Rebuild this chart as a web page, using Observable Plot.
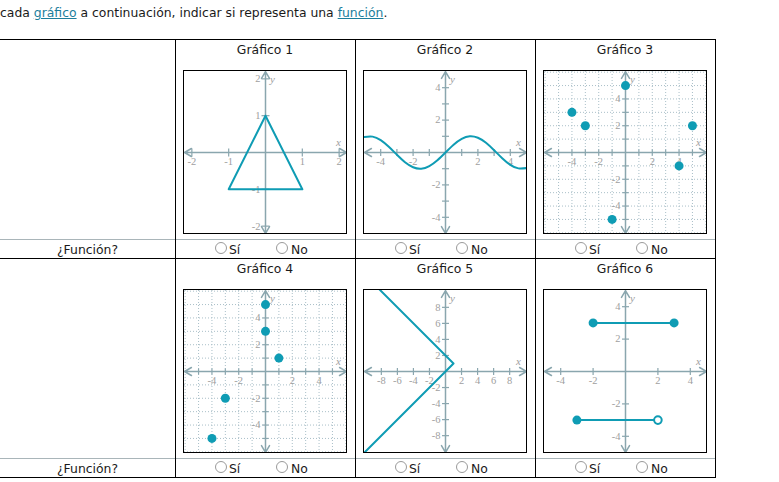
<!DOCTYPE html>
<html><head><meta charset="utf-8">
<script src="https://cdn.jsdelivr.net/npm/d3@7"></script>
<script src="https://cdn.jsdelivr.net/npm/@observablehq/plot@0.6"></script>
<style>
html,body{margin:0;padding:0;background:#fff;}
body{width:779px;height:482px;overflow:hidden;position:relative;font-family:Verdana,"DejaVu Sans",sans-serif;font-size:12.4px;color:#1a1a1a;}
.t{position:absolute;line-height:15px;white-space:nowrap;}
.hl{position:absolute;height:1px;}
.vl{position:absolute;width:1px;background:#000;}
a{color:#1c7e9c;text-decoration:underline;}
.radio{position:absolute;width:10px;height:10px;border:1px solid #9a9a9a;border-radius:50%;background:#fff;}
.box{position:absolute;width:162px;height:162px;border:1px solid #000;overflow:hidden;background:#fff;}
.box svg{display:block;}
</style></head><body>
<div class="t" style="left:0;top:5px">cada <a>gráfico</a> a continuación, indicar si representa una <a>función</a>.</div>
<div id="root"></div>
<script>
// ---------- data ----------
const graphTitles = ["Gráfico 1", "Gráfico 2", "Gráfico 3", "Gráfico 4", "Gráfico 5", "Gráfico 6"];
const questionLabel = "¿Función?";
const optionLabels = ["Sí", "No"];

// Gráfico 1: triangle
const triX = [0, 1, -1, 0];
const triY = [1, -1, -1, 1];
// Gráfico 2: wave
const waveX = [-5, -4.5, -4, -3.5, -3, -2.5, -2, -1.5, -1, -0.5, 0, 0.5, 1, 1.5, 2, 2.5, 3, 3.5, 4, 4.5, 5];
const waveY = [0.96, 0.98, 0.76, 0.35, -0.14, -0.6, -0.91, -1.0, -0.84, -0.48, 0, 0.48, 0.84, 1.0, 0.91, 0.6, 0.14, -0.35, -0.76, -0.98, -0.96];
// Gráfico 3: points
const pts3X = [0, -4, -3, 5, 4, -1];
const pts3Y = [5, 3, 2, 2, -1, -5];
// Gráfico 4: points
const pts4X = [0, 0, 1, -3, -4];
const pts4Y = [5, 3, 1, -2, -5];
// Gráfico 5: sideways V
const vX = [-9, 1, -11];
const vY = [11, 1, -11];
// Gráfico 6: two segments
const segStartX = [-2, -3];
const segEndX = [3, 2];
const segY = [3, -3];
const closedX = [-2, 3, -3];
const closedY = [3, 3, -3];
const openX = [2];
const openY = [-3];

// ticks / labels
const ticks1 = [-2, -1, 1, 2];
const labels1 = [-2, -1, 1, 2];
const ticksUnit5 = [-4, -3, -2, -1, 1, 2, 3, 4];
const labels5 = [-4, -2, 2, 4];
const grid6 = [-6, -5, -4, -3, -2, -1, 0, 1, 2, 3, 4, 5, 6];
const ticksUnit6 = [-5, -4, -3, -2, -1, 1, 2, 3, 4, 5];
const ticks10 = [-8, -6, -4, -2, 2, 4, 6, 8];
const labels10 = [-8, -6, -4, -2, 2, 4, 6, 8];
const ticksEven5 = [-4, -2, 2, 4];

// ---------- styles ----------
const axisColor = "#8aa6ae";
const gridColor = "#a9bfc8";
const teal = "#0f9cb4";
const labelColor = "#a0a0a0";
const serif = "'Liberation Serif','DejaVu Serif',serif";

const vTick = {draw(ctx, size){ const r = Math.sqrt(size/Math.PI); ctx.moveTo(0,-r); ctx.lineTo(0,r); }};
const hTick = {draw(ctx, size){ const r = Math.sqrt(size/Math.PI); ctx.moveTo(-r,0); ctx.lineTo(r,0); }};

function chart(cfg) {
  const xd = cfg.xd, yd = cfg.yd;
  const marks = [];
  if (cfg.grid) {
    marks.push(Plot.ruleX(cfg.grid, {x: d => d, stroke: gridColor, strokeDasharray: "1,2", strokeWidth: 1}));
    marks.push(Plot.ruleY(cfg.grid, {y: d => d, stroke: gridColor, strokeDasharray: "1,2", strokeWidth: 1}));
  }
  const axes = [
    {x1: 0, y1: 0, x2: xd[1], y2: 0}, {x1: 0, y1: 0, x2: xd[0], y2: 0},
    {x1: 0, y1: 0, x2: 0, y2: yd[1]}, {x1: 0, y1: 0, x2: 0, y2: yd[0]}
  ];
  marks.push(Plot.arrow(axes, {x1: "x1", y1: "y1", x2: "x2", y2: "y2", stroke: axisColor, strokeWidth: 1.5, headLength: 8, headAngle: 60}));
  marks.push(Plot.dot(cfg.xTicks, {x: d => d, y: () => 0, symbol: vTick, r: cfg.tickR, stroke: axisColor, strokeWidth: 1.2, fill: "none"}));
  marks.push(Plot.dot(cfg.yTicks, {x: () => 0, y: d => d, symbol: hTick, r: cfg.tickR, stroke: axisColor, strokeWidth: 1.2, fill: "none"}));
  marks.push(Plot.text(cfg.xLabels, {x: d => d, y: () => 0, dy: 9, text: d => String(d), fill: labelColor, fontFamily: serif, fontSize: 10.5}));
  marks.push(Plot.text(cfg.yLabels, {x: () => 0, y: d => d, dx: -5, textAnchor: "end", text: d => String(d), fill: labelColor, fontFamily: serif, fontSize: 10.5}));
  marks.push(Plot.text(["x"], {x: () => xd[1], y: () => 0, dx: -8, dy: -10, text: d => d, fill: labelColor, fontFamily: serif, fontStyle: "italic", fontSize: 11}));
  marks.push(Plot.text(["y"], {x: () => 0, y: () => yd[1], dx: 7, dy: 8, text: d => d, fill: labelColor, fontFamily: serif, fontStyle: "italic", fontSize: 11}));
  marks.push(...cfg.marks);
  return Plot.plot({width: 162, height: 162, margin: 0,
    x: {domain: xd, axis: null}, y: {domain: yd, axis: null}, marks});
}

const pairs = (xs, ys) => xs.map((x, i) => ({x, y: ys[i]}));

const charts = [
  {xd: [-2.2, 2.2], yd: [-2.2, 2.2], tickR: 4, xTicks: ticks1, yTicks: ticks1, xLabels: labels1, yLabels: labels1,
   marks: [Plot.line(pairs(triX, triY), {x: "x", y: "y", stroke: teal, strokeWidth: 2})]},
  {xd: [-5, 5], yd: [-5, 5], tickR: 3.5, xTicks: ticksUnit5, yTicks: ticksUnit5, xLabels: labels5, yLabels: labels5,
   marks: [Plot.line(pairs(waveX, waveY), {x: "x", y: "y", curve: "natural", stroke: teal, strokeWidth: 2})]},
  {xd: [-6.05, 6.05], yd: [-6.05, 6.05], tickR: 3, grid: grid6, xTicks: ticksUnit6, yTicks: ticksUnit6, xLabels: labels5, yLabels: labels5,
   marks: [Plot.dot(pairs(pts3X, pts3Y), {x: "x", y: "y", r: 4.5, fill: teal})]},
  {xd: [-6.05, 6.05], yd: [-6.05, 6.05], tickR: 3, grid: grid6, xTicks: ticksUnit6, yTicks: ticksUnit6, xLabels: labels5, yLabels: labels5,
   marks: [Plot.dot(pairs(pts4X, pts4Y), {x: "x", y: "y", r: 4.5, fill: teal})]},
  {xd: [-10.1, 10.1], yd: [-10.1, 10.1], tickR: 3.5, xTicks: ticks10, yTicks: ticks10, xLabels: labels10, yLabels: labels10,
   marks: [Plot.line(pairs(vX, vY), {x: "x", y: "y", stroke: teal, strokeWidth: 2, clip: true})]},
  {xd: [-5, 5], yd: [-5, 5], tickR: 3.5, xTicks: ticksEven5, yTicks: ticksEven5, xLabels: labels5, yLabels: labels5,
   marks: [
     Plot.link(segY.map((y, i) => ({x1: segStartX[i], x2: segEndX[i], y})), {x1: "x1", x2: "x2", y1: "y", y2: "y", stroke: teal, strokeWidth: 2}),
     Plot.dot(pairs(closedX, closedY), {x: "x", y: "y", r: 4.5, fill: teal}),
     Plot.dot(pairs(openX, openY), {x: "x", y: "y", r: 3.8, fill: "white", stroke: teal, strokeWidth: 2})
   ]}
];

// ---------- layout ----------
const root = document.getElementById("root");
const rowTops = [39, 258];
const cols = [175, 355, 535];
const tableRight = 715;
function el(cls, style, html) {
  const d = document.createElement("div");
  d.className = cls; d.setAttribute("style", style);
  if (html !== undefined) d.innerHTML = html;
  root.appendChild(d); return d;
}
el("hl", `left:0;top:${rowTops[0]}px;width:${tableRight + 1}px;background:#000`);
rowTops.forEach((top, r) => {
  el("hl", `left:0;top:${top + 200}px;width:${tableRight + 1}px;background:#a9b5b9`);
  el("hl", `left:0;top:${top + 219}px;width:${tableRight + 1}px;background:#000`);
  el("t", `left:0;top:${top + 203}px;width:175px;text-align:center`, questionLabel);
  cols.forEach((cx, c) => {
    const i = r * 3 + c;
    el("t", `left:${cx}px;top:${top + 3}px;width:180px;text-align:center`, graphTitles[i]);
    const box = el("box", `left:${cx + 8}px;top:${top + 31}px`);
    box.appendChild(chart(charts[i]));
    el("radio", `left:${cx + 40}px;top:${top + 203}px`);
    el("t", `left:${cx + 54}px;top:${top + 203}px`, optionLabels[0]);
    el("radio", `left:${cx + 101}px;top:${top + 203}px`);
    el("t", `left:${cx + 116}px;top:${top + 203}px`, optionLabels[1]);
  });
});
[175, 355, 535, 715].forEach(x => el("vl", `left:${x}px;top:${rowTops[0]}px;height:${rowTops[1] + 220 - rowTops[0]}px`));
</script>
</body></html>
